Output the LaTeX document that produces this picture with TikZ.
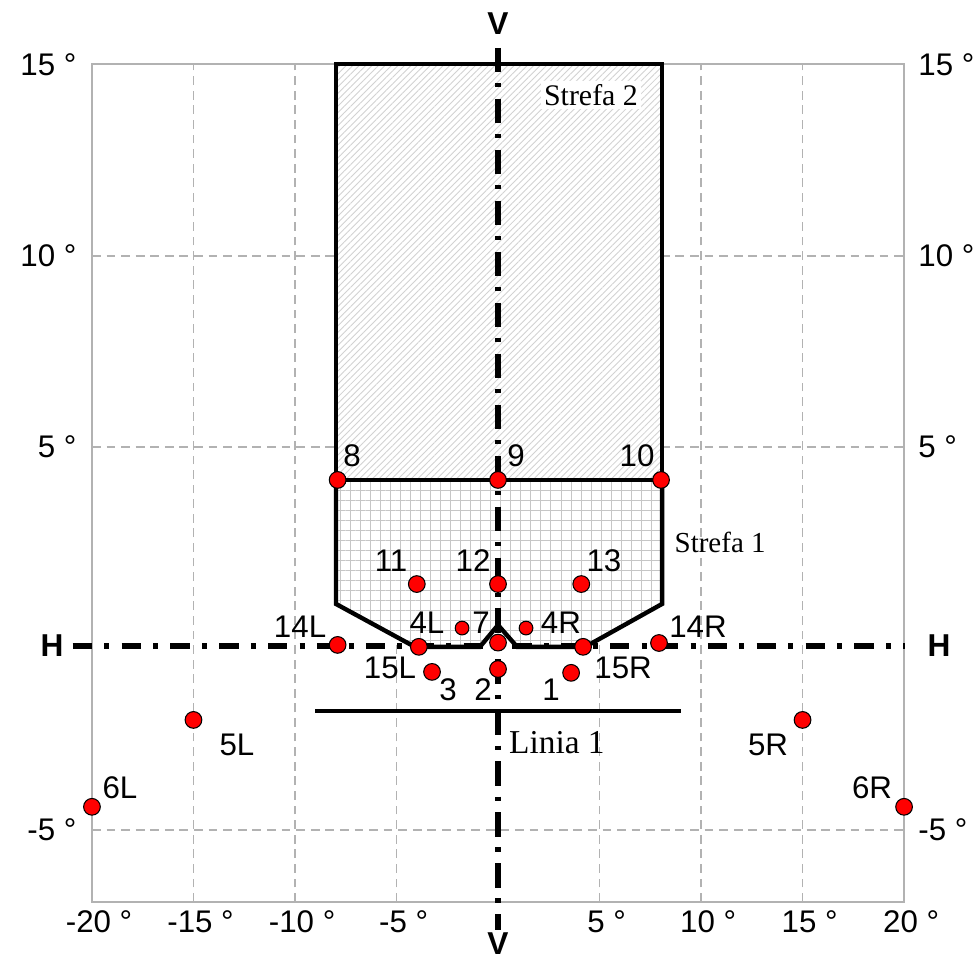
\documentclass[tikz,border=0pt]{standalone}
\usepackage{fontspec}
\setmainfont{Liberation Sans}
\newfontfamily\timesfont{Liberation Serif}
\usetikzlibrary{patterns.meta}

\begin{document}
\begin{tikzpicture}[x=0.406cm,y=0.7654cm,
    gridln/.style={gray!60,line width=1pt,dash pattern=on 5pt off 3.3pt},
    zone/.style={line width=2.5pt,line join=miter},
    hatch/.style={pattern={Lines[angle=#1,distance=2.6pt,line width=0.5pt]},pattern color=gray!35},
    mesh/.style={pattern={Lines[angle=#1,distance=5.7pt,line width=0.55pt]},pattern color=gray!45},
    pt/.style={circle,draw=black,fill=red,line width=0.6pt,inner sep=0pt,minimum size=9.5pt},
    spt/.style={pt,minimum size=7.8pt},
    lbl/.style={font=\fontsize{17.8}{20}\selectfont,inner sep=0pt},
    axlbl/.style={font=\bfseries\fontsize{18}{20}\selectfont,inner sep=0pt},
    zlbl/.style={font=\timesfont\fontsize{17}{20}\selectfont,inner sep=2pt}]
  \useasboundingbox (-24.53,-8.43) rectangle (23.74,16.68);
  % grid and frame
  \foreach \x in {-15,-10,-5,5,10,15} \draw[gridln] (\x,-6.885) -- (\x,15);
  \foreach \y in {10,5,-5} \draw[gridln] (-20,\y) -- (20,\y);
  \draw[gray!60,line width=1.1pt] (-20,-6.885) rectangle (20,15);
  \foreach \y in {15,10,5,-5} {
    \node[lbl,anchor=east] (yl\y) at (-20.75,\y) {\y\ °};
    \node[lbl,anchor=west] (yr\y) at (20.69,\y) {\y\ °};
  }
  \foreach \x in {-20,-15,-10,-5,5,10,15,20} \node[lbl] (xb\x) at (\x+0.35,-7.41) {\x\ °};

  % zones
  \path[preaction={fill=white},hatch=45] (-7.98,4.14) rectangle (8.08,15);
  \path[preaction={fill=white},preaction={mesh=0},mesh=90]
    (-7.98,4.14) -- (-7.98,0.9) -- (-4.1,-0.22) -- (-0.89,-0.22) -- (0,0.35)
    -- (0.94,-0.22) -- (4.3,-0.22) -- (8.08,0.9) -- (8.08,4.14) -- cycle;
  \draw[zone] (-7.98,4.14) -- (-7.98,15) -- (8.08,15) -- (8.08,4.14) -- cycle;
  \draw[zone] (-7.98,4.14) -- (-7.98,0.9) -- (-4.1,-0.22) -- (-0.89,-0.22) -- (0,0.35)
    -- (0.94,-0.22) -- (4.3,-0.22) -- (8.08,0.9) -- (8.08,4.14);
  \node[zlbl,fill=white] (s2) at (4.58,14.2) {Strefa 2};
  \node[zlbl,font=\timesfont\fontsize{16.5}{20}\selectfont] (s1) at (10.94,2.5) {Strefa 1};

  % axes H and V
  \node[axlbl] (vt) at (0,16.07) {V};
  \node[axlbl] (vb) at (0,-7.98) {V};
  \node[axlbl] (hl) at (-21.97,-0.2) {H};
  \node[axlbl] (hr) at (21.72,-0.2) {H};
  \draw[line width=3pt,dash pattern=on 11pt off 7pt on 2.8pt off 7pt] (-20.95,-0.2) -- (20.05,-0.2);
  \draw[line width=3pt,dash pattern=on 14pt off 6pt on 2.5pt off 6.5pt] (0,15.43) -- (0,-7.62);

  % Linia 1
  \draw[line width=2.3pt] (-9,-1.9) -- (9,-1.9);
  \node[zlbl,font=\timesfont\fontsize{19}{22}\selectfont] (li) at (2.9,-2.73) {Linia 1};

  % measuring points
  \foreach \n/\x/\y in {8/-7.9/4.14, 9/0/4.14, 10/8.03/4.14, 11/-4/1.42, 12/0/1.42, 13/4.1/1.42,
      14L/-7.9/-0.17, 15L/-3.9/-0.22, 7/0/-0.11, 15R/4.19/-0.22, 14R/7.93/-0.12,
      3/-3.25/-0.875, 2/0/-0.8, 1/3.6/-0.9, 5L/-15/-2.13, 5R/15/-2.13, 6L/-20/-4.4, 6R/20/-4.4}
    \node[pt] (p\n) at (\x,\y) {};
  \node[spt] (p4L) at (-1.77,0.27) {};
  \node[spt] (p4R) at (1.38,0.27) {};
  \foreach \n/\x/\y in {8/-7.19/4.77, 9/0.89/4.77, 10/6.85/4.77, 11/-5.27/2.03, 12/-1.23/2.03,
      13/5.22/2.03, 14L/-9.75/0.3, 4L/-3.5/0.4, 7/-0.84/0.4, 4R/3.1/0.4, 14R/9.85/0.3,
      15L/-5.32/-0.77, 15R/6.16/-0.77, 3/-2.46/-1.35, 2/-0.74/-1.35, 1/2.61/-1.35,
      5L/-12.86/-2.78, 5R/13.3/-2.78, 6L/-18.62/-3.91, 6R/18.42/-3.91}
    \node[lbl] (l\n) at (\x,\y) {\n};
\end{tikzpicture}
\end{document}
